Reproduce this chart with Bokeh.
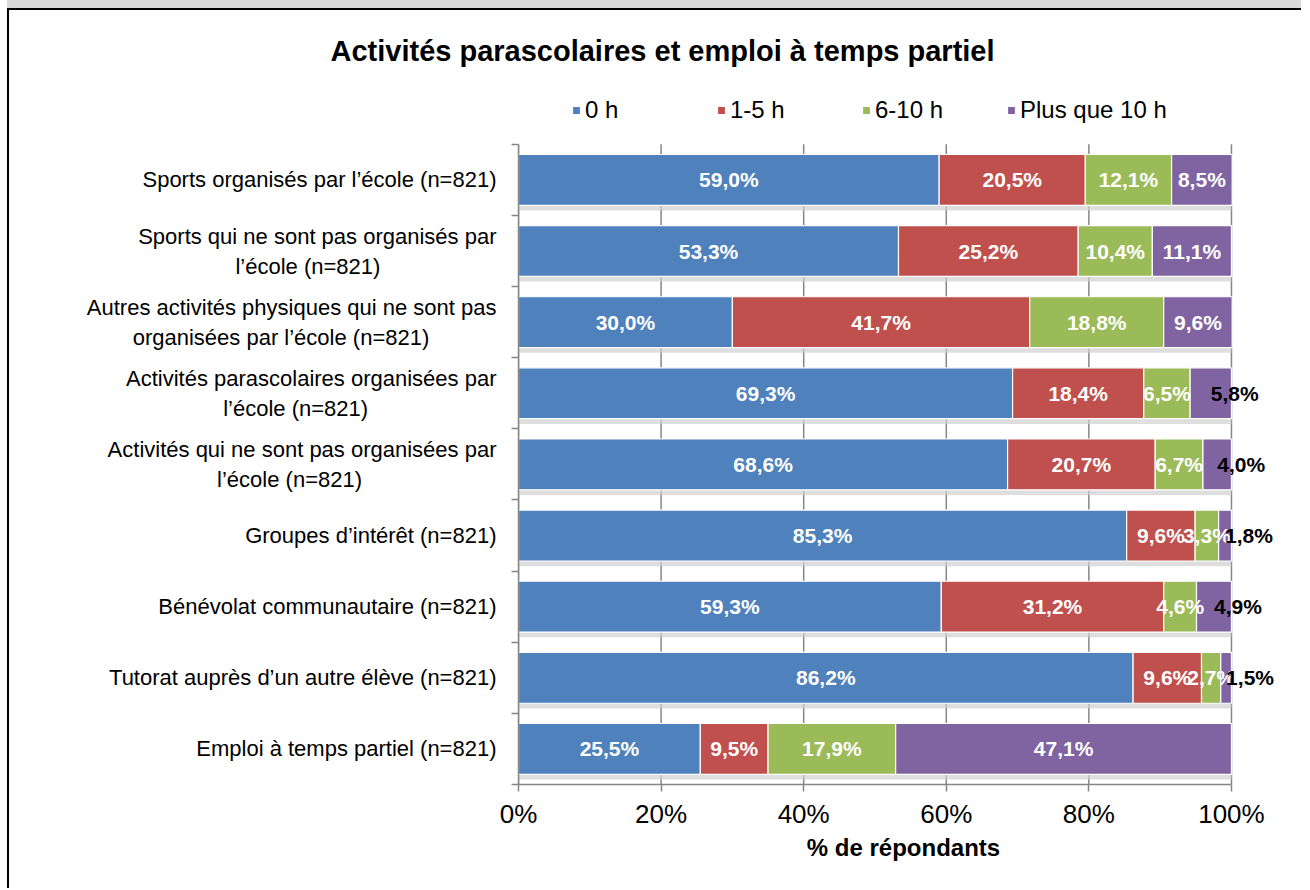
from bokeh.plotting import figure
from bokeh.models import (ColumnDataSource, Range1d, FixedTicker, Legend, LegendItem, Title)
from bokeh.embed import file_html
from bokeh.resources import INLINE
from bokeh.core.properties import value

NB = "\u00a0"
categories = [
    "Sports organisés par l\u2019école (n=821)",
    "Sports qui ne sont pas organisés par\nl\u2019école  (n=821)",
    "Autres activités physiques qui ne sont pas\norganisées par l\u2019école  (n=821)",
    "Activités parascolaires organisées par\nl\u2019école (n=821)",
    "Activités qui ne sont pas organisées par\nl\u2019école (n=821)",
    "Groupes d\u2019intérêt (n=821)",
    "Bénévolat communautaire (n=821)",
    "Tutorat auprès d\u2019un autre élève (n=821)",
    "Emploi à temps partiel (n=821)",
]
# second-line centring pads (count of no-break spaces)
line_pads = [0, 18, 10, 21, 22, 0, 0, 0, 0]
series_names = ["0 h", "1-5 h", "6-10 h", "Plus que 10 h"]
h_0 = [59.0, 53.3, 30.0, 69.3, 68.6, 85.3, 59.3, 86.2, 25.5]
h_1_5 = [20.5, 25.2, 41.7, 18.4, 20.7, 9.6, 31.2, 9.6, 9.5]
h_6_10 = [12.1, 10.4, 18.8, 6.5, 6.7, 3.3, 4.6, 2.7, 17.9]
h_10p = [8.5, 11.1, 9.6, 5.8, 4.0, 1.8, 4.9, 1.5, 47.1]
colors = ["#4F81BD", "#C0504D", "#9BBB59", "#8064A2"]
x_ticks = [0, 20, 40, 60, 80, 100]

FONT = "Liberation Sans"
series = [h_0, h_1_5, h_6_10, h_10p]
n = len(categories)
ypos = [n - 1 - i for i in range(n)]
top_extra = 0.757  # room above the bars for the legend

p = figure(width=1294, height=880, output_backend="svg", toolbar_location=None,
           x_range=Range1d(0, 108), y_range=Range1d(-0.5, n - 0.5 + top_extra),
           min_border_left=509, min_border_right=15, min_border_top=78, min_border_bottom=106,
           title=None)
p.outline_line_color = None
p.background_fill_color = "white"
p.border_fill_color = "white"
p.styles = {"margin-left": "7px", "margin-top": "8px",
            "border-left": "2px solid black", "border-top": "2px solid black",
            "box-shadow": "0 -8px 0 0 #d9d9d9"}

# vertical gridlines limited to the bar area
p.segment(x0=x_ticks, x1=x_ticks, y0=[-0.5] * len(x_ticks), y1=[n - 0.5] * len(x_ticks),
          line_color="#868686", line_width=1.5)

# shadows under bars
totals = [sum(s[i] for s in series) for i in range(n)]
shadow_src = ColumnDataSource(dict(y=[y - 0.36 for y in ypos], right=[min(t, 100) for t in totals]))
p.hbar(y="y", left=0, right="right", height=0.14, source=shadow_src,
       fill_color="#d0d0d0", fill_alpha=0.7, line_color=None)

src = ColumnDataSource(dict(y=ypos, **{f"s{k}": v for k, v in enumerate(series)}))
stackers = [f"s{k}" for k in range(4)]
renderers = p.hbar_stack(stackers, y="y", height=0.715, color=colors, source=src,
                         line_color="white", line_width=1.2)

# data labels
lx, ly, lt = [], [], []
bx, by, bt = [], [], []
for i in range(n):
    left = 0.0
    for k, s in enumerate(series):
        v = s[i]
        txt = f"{v:.1f}".replace(".", ",") + "%"
        if k == 3 and v < 6:
            bx.append(left + v / 2); by.append(ypos[i]); bt.append(txt)
        else:
            lx.append(left + v / 2); ly.append(ypos[i]); lt.append(txt)
        left += v
p.text(x=lx, y=ly, text=lt, text_color="white", text_font=value(FONT),
       text_font_size="21px", text_font_style="bold", text_align="center", text_baseline="middle")
p.text(x=bx, y=by, text=bt, text_color="black", text_font=value(FONT),
       text_font_size="21px", text_font_style="bold", text_align="left", text_baseline="middle",
       x_offset=0)

# axes
xa = p.xaxis[0]
xa.ticker = FixedTicker(ticks=x_ticks)
xa.bounds = (0, 100)
xa.major_label_overrides = {t: f"{t}%" for t in x_ticks}
xa.axis_line_color = "#868686"
xa.axis_line_width = 1.5
xa.major_tick_line_color = "#868686"
xa.major_tick_line_width = 1.5
xa.major_tick_out = 7
xa.major_tick_in = 0
xa.minor_tick_line_color = None
xa.major_label_text_font = FONT
xa.major_label_text_font_size = "26px"
xa.major_label_text_color = "black"
xa.major_label_standoff = 7
xa.axis_label = "% de répondants"
xa.axis_label_text_font = FONT
xa.axis_label_text_font_size = "24px"
xa.axis_label_text_font_style = "bold"
xa.axis_label_text_color = "black"
xa.axis_label_standoff = 2

labels = []
for c, pad in zip(categories, line_pads):
    if "\n" in c:
        a, b = c.split("\n")
        c = a + "\n" + b + NB * pad
    labels.append(c)

ya = p.yaxis[0]
ya.ticker = FixedTicker(ticks=ypos, minor_ticks=[y + 0.5 for y in range(-1, n)])
ya.bounds = (-0.5, n - 0.5)
ya.major_label_overrides = {ypos[i]: labels[i] for i in range(n)}
ya.axis_line_color = "#868686"
ya.axis_line_width = 1.5
ya.major_tick_line_color = None
ya.minor_tick_line_color = "#868686"
ya.minor_tick_line_width = 1.5
ya.minor_tick_out = 7
ya.minor_tick_in = 0
ya.major_label_text_font = FONT
ya.major_label_text_font_size = "22px"
ya.major_label_text_color = "black"
ya.major_label_standoff = 15

p.xgrid.grid_line_color = None
p.ygrid.grid_line_color = None

legend = Legend(items=[LegendItem(label=series_names[k], renderers=[renderers[k]]) for k in range(4)],
                orientation="horizontal", location=(53, 660),
                label_text_font=FONT, label_text_font_size="24px", label_text_color="black",
                glyph_width=10, glyph_height=10, label_standoff=4, spacing=61, label_width=70,
                border_line_color=None, background_fill_alpha=0, padding=2, margin=0)
p.add_layout(legend, "center")

title = Title(text="Activités parascolaires et emploi à temps partiel", align="left", offset=-188,
              standoff=46, vertical_align="middle",
              text_font=FONT, text_font_size="29px", text_font_style="bold", text_color="black")
p.add_layout(title, "above")

open("out.html", "w").write(file_html(p, INLINE))
